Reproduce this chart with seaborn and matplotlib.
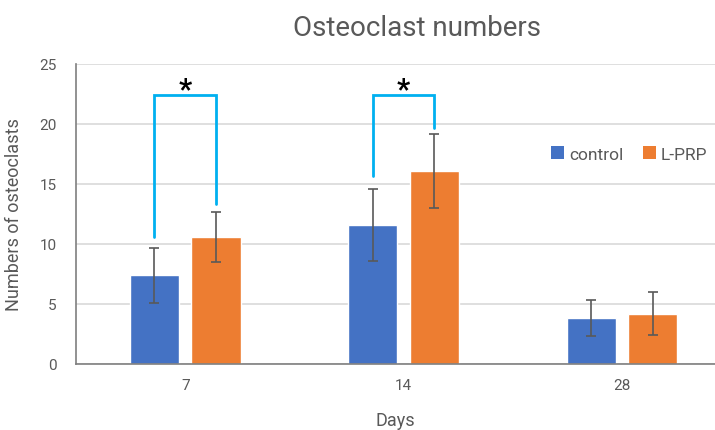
import matplotlib
matplotlib.use("Agg")
import matplotlib.pyplot as plt
import seaborn as sns
import pandas as pd
from matplotlib.patches import Patch

# Osteoclast counts per group (mean ± SD)
days = ["7", "14", "28"]
groups = ["control", "L-PRP"]
control_mean = [7.4, 11.6, 3.8]
control_sd = [2.3, 3.0, 1.5]
lprp_mean = [10.6, 16.1, 4.2]
lprp_sd = [2.1, 3.1, 1.8]
y_ticks = [0, 5, 10, 15, 20, 25]

colors = {"control": "#4472C4", "L-PRP": "#ED7D31"}
text_gray = "#595959"

df = pd.DataFrame({
    "Days": days * 2,
    "group": ["control"] * 3 + ["L-PRP"] * 3,
    "value": control_mean + lprp_mean,
    "sd": control_sd + lprp_sd,
})

sns.set_theme(style="white")
plt.rcParams["font.family"] = ["Roboto", "DejaVu Sans"]

fig = plt.figure(figsize=(7.15, 4.31), dpi=100)
ax = fig.add_axes([76 / 715, 66 / 431, 1 - 76 / 715, 300 / 431])

sns.barplot(data=df, x="Days", y="value", hue="group", order=days,
            hue_order=groups, palette=colors, saturation=1, width=0.563, gap=0.2,
            errorbar=None, legend=False, ax=ax, zorder=2)

# error bars at the centre of each bar
centers = {}
for g_idx, g in enumerate(groups):
    cont = ax.containers[g_idx]
    sub = df[df["group"] == g].set_index("Days").loc[days]
    xs = [p.get_x() + p.get_width() / 2 for p in cont.patches]
    centers[g] = xs
    ax.errorbar(xs, sub["value"], yerr=sub["sd"], fmt="none",
                ecolor=text_gray, elinewidth=1.2, capsize=3.5,
                capthick=1.2, zorder=3)

# significance brackets for days 7 and 14
bracket_color = "#00B0F0"
bracket_top = 22.4
left_ends = [10.6, 15.7]
right_ends = [13.3, 19.7]
for i in range(2):
    x0, x1 = centers["control"][i], centers["L-PRP"][i]
    ax.plot([x0, x0, x1, x1], [left_ends[i], bracket_top, bracket_top, right_ends[i]],
            color=bracket_color, lw=2.0, solid_joinstyle="miter", zorder=4,
            clip_on=False)
    ax.text((x0 + x1) / 2, 22.25, "*", ha="center", va="baseline",
            fontsize=21, color="black", fontweight="bold", zorder=5)

ax.set_xlim(-0.5, 2.426)
ax.set_ylim(0, 25)
ax.set_yticks(y_ticks)
ax.yaxis.grid(True, color="#D9D9D9", lw=1.2, zorder=0)
ax.xaxis.grid(False)
ax.set_axisbelow(True)

for side in ["top", "right"]:
    ax.spines[side].set_visible(False)
for side in ["left", "bottom"]:
    ax.spines[side].set_color("#7F7F7F")
    ax.spines[side].set_linewidth(1.2)

ax.tick_params(axis="both", length=0, colors=text_gray, labelsize=11)
ax.tick_params(axis="y", pad=14)
ax.tick_params(axis="x", pad=10)

ax.set_xlabel("Days", fontsize=13, color=text_gray, labelpad=14)
ax.set_ylabel("Numbers of osteoclasts", fontsize=13, color=text_gray, labelpad=12)
fig.text(417 / 715, 1 - 29 / 431, "Osteoclast numbers", ha="center", va="center",
         fontsize=20, color=text_gray)

handles = [Patch(facecolor=colors[g], edgecolor="none", label=g) for g in groups]
ax.legend(handles=handles, loc="center left", ncol=2, frameon=False, fontsize=12.5,
          handlelength=0.75, handleheight=0.75, handletextpad=0.3,
          columnspacing=1.1, labelcolor=text_gray,
          bbox_to_anchor=((551 - 76) / (715 - 76), 1 - (155 - 65) / 300),
          bbox_transform=ax.transAxes, borderaxespad=0, borderpad=0)

fig.savefig("out.png", dpi=100)
